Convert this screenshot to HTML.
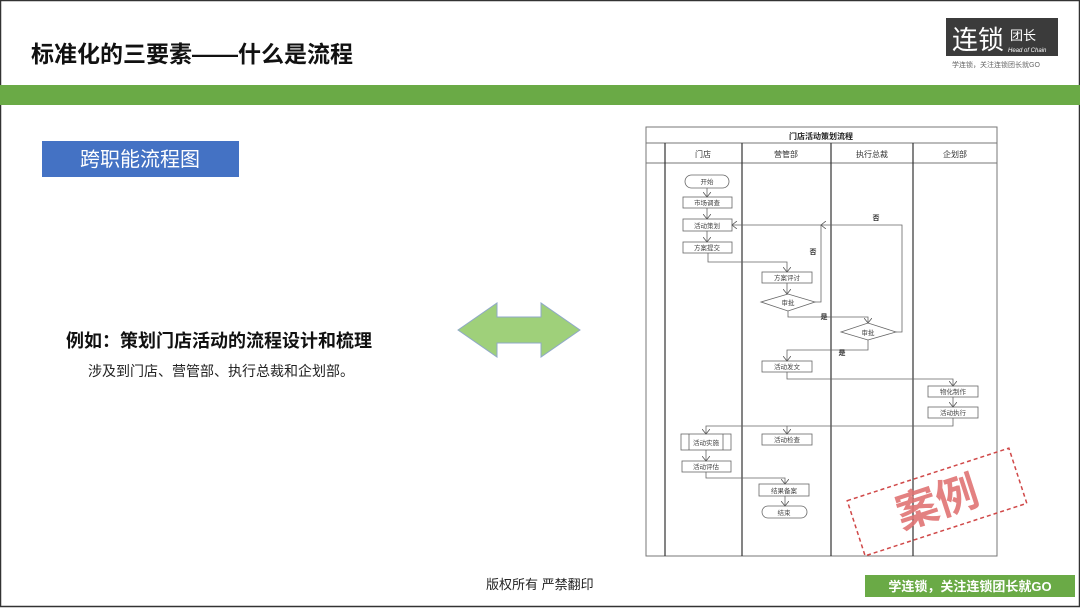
<!DOCTYPE html>
<html><head><meta charset="utf-8"><style>
html,body{margin:0;padding:0;background:#fff}
body{width:1080px;height:608px;overflow:hidden;position:relative;font-family:"Liberation Sans","Noto Sans CJK SC",sans-serif}
</style></head><body>
<svg width="1080" height="608" viewBox="0 0 1080 608" xmlns="http://www.w3.org/2000/svg" style="position:absolute;left:0;top:0;font-family:'Liberation Sans','Noto Sans CJK SC',sans-serif">
<defs><marker id="a" markerWidth="8" markerHeight="8" refX="5" refY="4" orient="auto" markerUnits="userSpaceOnUse"><path d="M0,0 L5,4 L0,8" fill="none" stroke="#555" stroke-width="0.8"/></marker></defs>
<rect x="0.5" y="0.5" width="1079" height="606" fill="none" stroke="#333" stroke-width="1.5"/>
<text x="31" y="62" font-size="23" font-weight="bold" fill="#111">标准化的三要素——什么是流程</text>
<rect x="946" y="18" width="112" height="38" fill="#3b3b3b"/>
<text x="952" y="49" font-size="26" fill="#fff">连锁</text>
<text x="1010" y="40" font-size="13" fill="#fff">团长</text>
<text x="1008" y="52" font-size="6" fill="#fff" font-style="italic">Head of Chain</text>
<text x="952" y="67" font-size="7" fill="#666">学连锁，关注连锁团长就GO</text>
<rect x="0" y="85" width="1080" height="20" fill="#6aaa46"/>
<rect x="42" y="141" width="197" height="36" fill="#4472c4"/>
<text x="140" y="166" font-size="20" fill="#fff" text-anchor="middle">跨职能流程图</text>
<path d="M458,330 L497,303 L497,317 L541,317 L541,303 L580,330 L541,357 L541,343 L497,343 L497,357 Z" fill="#9fd07a" stroke="#8fa8c8" stroke-width="1"/>
<text x="66" y="347" font-size="18" font-weight="bold" fill="#111">例如：策划门店活动的流程设计和梳理</text>
<text x="88" y="376" font-size="14" fill="#222">涉及到门店、营管部、执行总裁和企划部。</text>
<text x="486" y="589" font-size="13" fill="#222">版权所有  严禁翻印</text>
<rect x="865" y="575" width="210" height="22" fill="#6aaa46"/>
<text x="970" y="591" font-size="13" font-weight="bold" fill="#fff" text-anchor="middle">学连锁，关注连锁团长就GO</text>

<g stroke="#777" fill="none" stroke-width="1">
<rect x="646" y="127" width="351" height="429"/>
<line x1="646" y1="143" x2="997" y2="143"/>
<line x1="646" y1="163" x2="997" y2="163"/>
</g>
<g stroke="#333" stroke-width="1.2">
<line x1="665" y1="143" x2="665" y2="556"/>
<line x1="742" y1="143" x2="742" y2="556"/>
<line x1="831" y1="143" x2="831" y2="556"/>
<line x1="913" y1="143" x2="913" y2="556"/>
</g>
<text x="821" y="139" font-size="8" font-weight="bold" text-anchor="middle" fill="#222">门店活动策划流程</text>
<g font-size="8" text-anchor="middle" fill="#333">
<text x="703" y="157">门店</text><text x="786" y="157">营管部</text><text x="872" y="157">执行总裁</text><text x="955" y="157">企划部</text>
</g>
<g stroke="#666" fill="#fff" stroke-width="0.8">
<rect x="685" y="175" width="44" height="13" rx="6.5"/>
<rect x="683" y="197" width="49" height="11"/>
<rect x="683" y="219" width="49" height="12"/>
<rect x="683" y="242" width="49" height="11"/>
<rect x="762" y="272" width="50" height="11"/>
<path d="M761,302 L788,294 L815,302 L788,311 Z"/>
<path d="M841,332 L868,323 L896,332 L868,340 Z"/>
<rect x="762" y="361" width="50" height="11"/>
<rect x="928" y="386" width="50" height="11"/>
<rect x="928" y="407" width="50" height="11"/>
<rect x="681" y="434" width="50" height="16"/>
<line x1="689" y1="434" x2="689" y2="450"/><line x1="723" y1="434" x2="723" y2="450"/>
<rect x="762" y="434" width="50" height="11"/>
<rect x="682" y="461" width="49" height="11"/>
<rect x="759" y="484" width="50" height="12"/>
<rect x="762" y="506" width="45" height="12" rx="6"/>
</g>
<g font-size="6.5" text-anchor="middle" fill="#444">
<text x="707" y="184">开始</text><text x="707" y="205">市场调查</text><text x="707" y="228">活动策划</text><text x="707" y="250">方案提交</text>
<text x="787" y="280">方案评讨</text><text x="788" y="305">审批</text><text x="868" y="335">审批</text>
<text x="787" y="369">活动发文</text><text x="953" y="394">物化制作</text><text x="953" y="415">活动执行</text>
<text x="706" y="445">活动实施</text><text x="787" y="442">活动检查</text><text x="706" y="469">活动评估</text>
<text x="784" y="493">结果备案</text><text x="784" y="515">结束</text>
</g>
<g stroke="#666" fill="none" stroke-width="0.8" marker-end="url(#a)">
<path d="M707,188 V197"/><path d="M707,208 V219"/><path d="M707,231 V242"/>
<path d="M708,253 V262 H787 V272"/><path d="M787,283 V294"/>
<path d="M815,302 H821 V225 H732"/>
<path d="M788,311 V317 H868 V323"/>
<path d="M896,332 H902 V225 H821"/>
<path d="M868,340 V350 H787 V361"/>
<path d="M787,372 V379 H953 V386"/><path d="M953,397 V407"/>
<path d="M953,418 V426 H706 V434"/><path d="M787,426 V434"/>
<path d="M706,450 V461"/><path d="M706,472 V478 H785 V484"/><path d="M785,496 V506"/>
</g>
<g font-size="7" font-weight="bold" fill="#333" text-anchor="middle">
<text x="813" y="254">否</text><text x="876" y="220">否</text><text x="824" y="319">是</text><text x="842" y="355">是</text>
</g>
<g transform="translate(937,502) rotate(-18)">
<rect x="-85" y="-29" width="170" height="58" fill="none" stroke="#d04848" stroke-width="1.5" stroke-dasharray="4,3"/>
<text x="0" y="15" font-size="42" font-weight="bold" fill="#e07474" text-anchor="middle" opacity="0.9">案例</text>
</g>
</svg>
</body></html>
